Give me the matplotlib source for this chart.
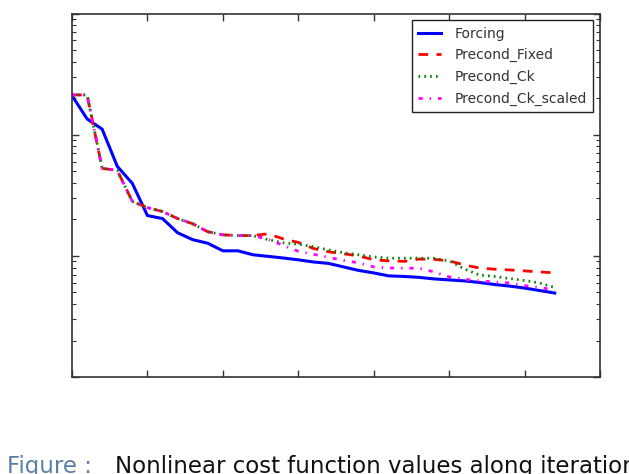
import numpy as np
import matplotlib
matplotlib.use("Agg")
import matplotlib.pyplot as plt
from matplotlib.ticker import LogLocator, NullFormatter, FixedLocator

plt.rcParams['lines.scale_dashes'] = False
plt.rcParams['font.family'] = ['DejaVu Sans']

iterations = list(range(33))
forcing = [210, 135, 111, 54.8, 39.6, 21.5, 20.3, 15.5, 13.6, 12.7, 11.0, 11.0,
           10.2, 9.9, 9.6, 9.27, 8.9, 8.66, 8.1, 7.58, 7.23, 6.83, 6.76, 6.64,
           6.45, 6.33, 6.21, 6.03, 5.8, 5.63, 5.42, 5.17, 4.93]
precond_fixed = [212.8, 212.8, 52.7, 50.7, 28.1, 25.0, 23.2, 20.3, 18.4, 15.8, 14.9, 14.7,
                 14.7, 15.2, 13.8, 12.9, 11.5, 10.8, 10.4, 10.0, 9.27, 9.09, 9.0, 9.4,
                 9.35, 9.09, 8.41, 7.94, 7.76, 7.65, 7.51, 7.37, 7.23]
precond_ck = [212.8, 212.8, 52.7, 50.7, 28.1, 25.0, 23.2, 20.3, 18.4, 15.8, 14.9, 14.7,
              14.7, 13.6, 12.8, 12.5, 11.9, 11.2, 10.6, 10.2, 9.8, 9.57, 9.57, 9.57,
              9.53, 9.09, 7.8, 6.95, 6.76, 6.5, 6.26, 5.97, 5.48]
precond_ck_scaled = [212.8, 212.8, 52.7, 50.7, 28.1, 25.0, 23.2, 20.3, 18.4, 15.8, 14.9, 14.7,
                     14.7, 13.7, 12.2, 10.9, 10.3, 9.72, 9.18, 8.75, 8.11, 7.94, 7.9, 7.9,
                     7.37, 6.7, 6.41, 6.21, 6.08, 5.97, 5.69, 5.48, 5.22]
labels = ['Forcing', 'Precond_Fixed', 'Precond_Ck', 'Precond_Ck_scaled']
caption_prefix = 'Figure :'
caption_text = 'Nonlinear cost function values along iteration'

fig = plt.figure(figsize=(6.29, 4.74), dpi=100)
ax = fig.add_axes([72/629, 1 - 377/474, (600-72)/629, (377-13.5)/474])

ax.plot(iterations, forcing, color='#0000ff', lw=2.2, ls='-', label=labels[0])
ax.plot(iterations, precond_fixed, color='#ff0000', lw=2.0, dashes=(7, 6), label=labels[1])
ax.plot(iterations, precond_ck, color='#008000', lw=2.0, dashes=(1.2, 3), label=labels[2])
ax.plot(iterations, precond_ck_scaled, color='#ff00ff', lw=2.0, dashes=(3, 5, 1, 5), label=labels[3])

ax.set_yscale('log')
ax.set_xlim(0, 35)
ax.set_ylim(1, 1000)
ax.xaxis.set_major_locator(FixedLocator([0, 5, 10, 15, 20, 25, 30, 35]))
ax.yaxis.set_major_locator(LogLocator(base=10, numticks=10))
ax.yaxis.set_minor_locator(LogLocator(base=10, subs=np.arange(2, 10), numticks=10))
ax.xaxis.set_major_formatter(NullFormatter())
ax.yaxis.set_major_formatter(NullFormatter())
ax.yaxis.set_minor_formatter(NullFormatter())
ax.tick_params(which='both', direction='in', top=True, right=True, colors='#333333')
ax.tick_params(which='major', length=5, width=1)
ax.tick_params(which='minor', length=3, width=0.8)
for s in ax.spines.values():
    s.set_color('#333333')
    s.set_linewidth(1.2)

leg = ax.legend(loc='upper right', fontsize=10, handlelength=1.6, handletextpad=1.0,
                borderpad=0.45, labelspacing=0.55, borderaxespad=0.5, fancybox=False,
                framealpha=1, edgecolor='black')
leg.get_frame().set_linewidth(1.0)
leg.get_frame().set_edgecolor('#222222')
for t in leg.get_texts():
    t.set_color('#333333')

fig.text(7/629, 1/474, caption_prefix, color='#5a7fa6', fontsize=16.5, va='baseline', ha='left')
fig.text(115/629, 1/474, caption_text, color='#111111', fontsize=16.5, va='baseline', ha='left')

fig.savefig('out.png', dpi=100, facecolor='white')
